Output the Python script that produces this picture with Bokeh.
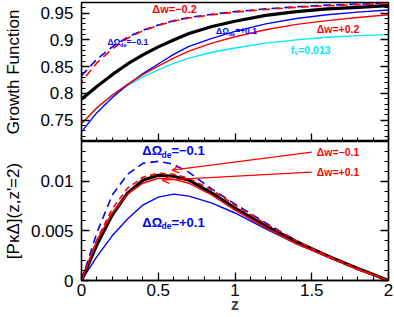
import numpy as np
from bokeh.plotting import figure
from bokeh.layouts import column
from bokeh.models import (LinearAxis, SingleIntervalTicker, CustomJSTickFormatter,
                          Label, Arrow, OpenHead, Range1d)
from bokeh.embed import file_html
from bokeh.resources import INLINE

# ---------------- data ----------------
z = [0, 0.1, 0.2, 0.3, 0.4, 0.5, 0.6, 0.7, 0.85, 1.0, 1.2, 1.4, 1.6, 1.8, 2.0]

# top panel: growth function
g_fid      = [0.789, 0.813, 0.835, 0.855, 0.872, 0.887, 0.900, 0.912, 0.925, 0.935, 0.946, 0.953, 0.958, 0.961, 0.964]
g_dw_m02   = [0.822, 0.857, 0.883, 0.903, 0.917, 0.927, 0.935, 0.941, 0.947, 0.952, 0.957, 0.961, 0.964, 0.966, 0.968]
g_dom_m01  = [0.833, 0.864, 0.887, 0.905, 0.918, 0.928, 0.936, 0.942, 0.948, 0.953, 0.958, 0.962, 0.965, 0.967, 0.969]
g_dom_p01  = [0.728, 0.764, 0.792, 0.816, 0.837, 0.855, 0.873, 0.888, 0.903, 0.916, 0.930, 0.940, 0.947, 0.952, 0.956]
g_dw_p02   = [0.743, 0.773, 0.797, 0.817, 0.835, 0.851, 0.866, 0.879, 0.894, 0.906, 0.919, 0.929, 0.936, 0.942, 0.947]
g_fnu      = [0.743, 0.772, 0.796, 0.815, 0.831, 0.844, 0.856, 0.866, 0.877, 0.885, 0.894, 0.900, 0.905, 0.908, 0.910]

# bottom panel: [P_kD](z, z'=2)
p_fid      = [0, 0.0036, 0.0066, 0.0088, 0.0101, 0.0106, 0.0105, 0.0101, 0.0088, 0.0073, 0.0055, 0.0039, 0.0025, 0.0012, 0]
p_dom_m01  = [0, 0.0048, 0.0086, 0.0107, 0.0118, 0.0120, 0.0117, 0.0109, 0.0092, 0.0077, 0.0058, 0.0040, 0.0024, 0.0011, 0]
p_dom_p01  = [0, 0.0024, 0.0045, 0.0062, 0.0076, 0.0084, 0.0087, 0.0085, 0.0078, 0.0068, 0.0052, 0.0037, 0.0024, 0.0012, 0]
p_dw_m01   = [0, 0.0041, 0.0072, 0.0093, 0.0104, 0.0108, 0.0107, 0.0103, 0.0091, 0.0076, 0.0057, 0.0040, 0.0025, 0.0012, 0]
p_dw_p01   = [0, 0.0040, 0.0068, 0.0087, 0.0098, 0.0103, 0.0102, 0.0098, 0.0086, 0.0071, 0.0053, 0.0037, 0.0024, 0.0011, 0]

RED, BLUE, CYAN = "#ff0000", "#0000ff", "#00e8ff"
FONT = "Liberation Sans"

# approx glyph widths (em) for composing labels
W = {'Δ': 0.70, 'Ω': 0.78, 'w': 0.78, '=': 0.584, '−': 0.584, '+': 0.584, '.': 0.278,
     'f': 0.333, 'd': 0.611, 'e': 0.556, 'ν': 0.556}


def tw(s, size):
    return sum(W.get(c, 0.556) for c in s) * size


def rich_label(p, x, y, pieces, color, size, bold=True, sub_scale=0.65):
    off = 0.0
    for txt, sub in pieces:
        fs = size * sub_scale if sub else size
        shift = -0.3 * size if sub else 0.0
        p.add_layout(Label(x=x, y=y, x_offset=off, y_offset=shift, text=txt,
                           text_color=color, text_font=FONT,
                           text_font_size=f"{fs:.1f}px",
                           text_font_style="bold" if bold else "normal",
                           text_baseline="middle"))
        off += tw(txt, fs)


fmt = CustomJSTickFormatter(code="return String(+tick.toFixed(4));")
blank = CustomJSTickFormatter(code="return '';")


def style_axes(p, xt, yt, show_x_labels):
    for ax in p.axis:
        ax.major_tick_in = 8
        ax.major_tick_out = 0
        ax.minor_tick_in = 4
        ax.minor_tick_out = 0
        ax.axis_line_width = 1.3
        ax.major_tick_line_width = 1.3
        ax.minor_tick_line_width = 1.1
        ax.major_label_text_font = FONT
        ax.major_label_text_font_size = "17px"
        ax.major_label_text_color = "black"
        ax.formatter = fmt
    p.xaxis.ticker = xt
    p.yaxis.ticker = yt
    p.yaxis.major_label_standoff = 8
    p.yaxis.axis_label_text_font = FONT
    p.yaxis.axis_label_text_font_style = "normal"
    p.yaxis.axis_label_text_color = "black"
    if not show_x_labels:
        p.xaxis.formatter = blank
        p.xaxis.major_label_text_font_size = "1px"
        p.xaxis.major_label_standoff = 0
    ra = LinearAxis(ticker=yt, formatter=blank, major_tick_in=8, major_tick_out=0,
                    minor_tick_in=4, minor_tick_out=0, major_label_text_font_size="1px",
                    major_label_standoff=0, axis_line_width=1.3,
                    major_tick_line_width=1.3, minor_tick_line_width=1.1)
    p.add_layout(ra, "right")
    p.xgrid.visible = False
    p.ygrid.visible = False
    p.outline_line_color = "black"
    p.outline_line_width = 1.3


H_TOP, H_BOT = 141, 174
FW = 307
ML = 80
MR = 2

# ---------------- top panel ----------------
top = figure(frame_width=FW, height=H_TOP, output_backend="svg", toolbar_location=None,
             x_range=Range1d(0, 2), y_range=Range1d(0.71, 0.97),
             min_border_left=ML, min_border_right=MR, min_border_top=2, min_border_bottom=0)
style_axes(top, SingleIntervalTicker(interval=0.5, num_minor_ticks=5),
           SingleIntervalTicker(interval=0.05, num_minor_ticks=5), False)
top.yaxis.axis_label = "Growth Function"
top.yaxis.axis_label_text_font_size = "17px"
top.yaxis.axis_label_standoff = 14

top.line(z, g_fnu, line_color=CYAN, line_width=1.4)
top.line(z, g_dom_p01, line_color=BLUE, line_width=1.4)
top.line(z, g_dw_p02, line_color=RED, line_width=1.4)
top.line(z, g_dom_m01, line_color=BLUE, line_width=1.6, line_dash="8 5")
top.line(z, g_dw_m02, line_color=RED, line_width=1.6, line_dash="8 5", line_dash_offset=6)
top.line(z, g_fid, line_color="black", line_width=3.2)

rich_label(top, 0.461, 0.9585, [("Δw=−0.2", False)], RED, 11)
rich_label(top, 0.169, 0.8953, [("ΔΩ", False), ("de", True), ("=−0.1", False)], BLUE, 8.5)
rich_label(top, 0.877, 0.916, [("ΔΩ", False), ("de", True), ("=+0.1", False)], BLUE, 8.5)
rich_label(top, 1.532, 0.9198, [("Δw=+0.2", False)], RED, 10.5)
rich_label(top, 1.364, 0.882, [("f", False), ("ν", True), ("=0.013", False)], CYAN, 10.5)

# ---------------- bottom panel ----------------
bot = figure(frame_width=FW, height=H_BOT, output_backend="svg", toolbar_location=None,
             x_range=top.x_range, y_range=Range1d(0, 0.014),
             min_border_left=ML, min_border_right=MR, min_border_top=0, min_border_bottom=0)
style_axes(bot, SingleIntervalTicker(interval=0.5, num_minor_ticks=5),
           SingleIntervalTicker(interval=0.005, num_minor_ticks=5), True)
bot.yaxis.axis_label = "[PκΔ](z,z'=2)"
bot.yaxis.axis_label_text_font_size = "17px"
bot.yaxis.axis_label_standoff = 5
bot.xaxis.major_label_standoff = 3
bot.xaxis.axis_label = "z"
bot.xaxis.axis_label_text_font = FONT
bot.xaxis.axis_label_text_font_size = "16px"
bot.xaxis.axis_label_text_font_style = "bold"
bot.xaxis.axis_label_standoff = -3

bot.line(z, p_dom_m01, line_color=BLUE, line_width=1.6, line_dash="8 5")
bot.line(z, p_dom_p01, line_color=BLUE, line_width=1.4)
bot.line(z, p_fid, line_color="black", line_width=3.2)
bot.line(z, p_dw_p01, line_color=RED, line_width=1.5)
bot.line(z, p_dw_m01, line_color=RED, line_width=1.6, line_dash="6 4")

rich_label(bot, 0.396, 0.01306, [("ΔΩ", False), ("de", True), ("=−0.1", False)], BLUE, 13)
rich_label(bot, 0.396, 0.00586, [("ΔΩ", False), ("de", True), ("=+0.1", False)], BLUE, 13)
rich_label(bot, 1.532, 0.01293, [("Δw=−0.1", False)], RED, 10.5)
rich_label(bot, 1.532, 0.01091, [("Δw=+0.1", False)], RED, 10.5)

arrow_start = [(1.50, 0.01293), (1.50, 0.01091)]
arrow_end = [(0.59, 0.01111), (0.526, 0.0101)]
for (xs, ys), (xe, ye) in zip(arrow_start, arrow_end):
    bot.add_layout(Arrow(x_start=xs, y_start=ys, x_end=xe, y_end=ye,
                         line_color=RED, line_width=1.3,
                         end=OpenHead(size=7, line_color=RED, line_width=1.3)))

layout = column(top, bot, spacing=0)
open("out.html", "w").write(file_html(layout, INLINE))
